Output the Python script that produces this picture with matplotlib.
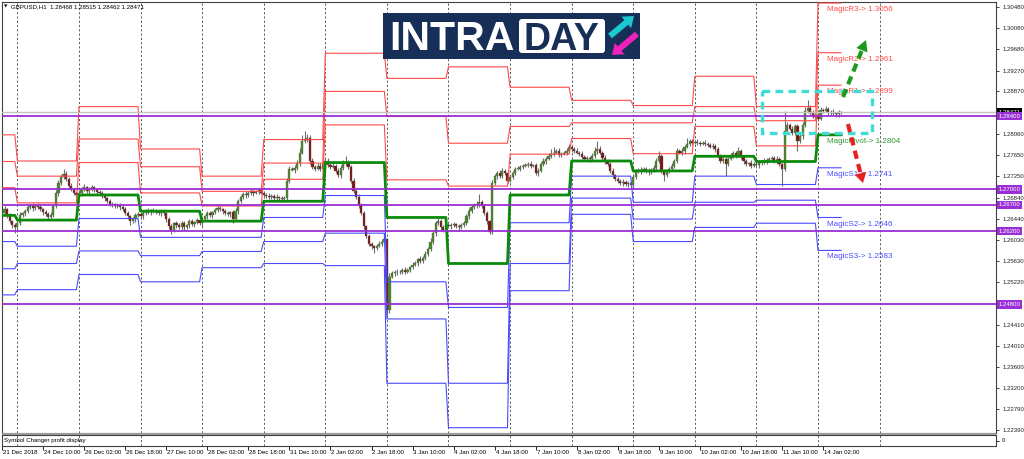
import numpy as np
import matplotlib
matplotlib.use("Agg")
import matplotlib.pyplot as plt
from matplotlib.patches import Rectangle, FancyBboxPatch, FancyArrow, Polygon
from matplotlib.transforms import blended_transform_factory

# ---------------- data ----------------
symbol_title = "GBPUSD,H1  1.28468 1.28515 1.28462 1.28471"
subwindow_title = "Symbol Changer profit display"
first_open = 1.2650
closes = [
    1.2654, 1.2662, 1.2650, 1.2639, 1.2631,
    1.2627, 1.2635, 1.2650, 1.2654, 1.2658,
    1.2666, 1.2668, 1.2664, 1.2669, 1.2666,
    1.2662, 1.2656, 1.2652, 1.2646, 1.2650,
    1.2668, 1.2693, 1.2712, 1.2723, 1.2729,
    1.2719, 1.2706, 1.2700, 1.2693, 1.2689,
    1.2693, 1.2700, 1.2704, 1.2696, 1.2700,
    1.2704, 1.2698, 1.2694, 1.2693, 1.2687,
    1.2683, 1.2677, 1.2671, 1.2671, 1.2668,
    1.2669, 1.2666, 1.2662, 1.2654, 1.2648,
    1.2639, 1.2643, 1.2650, 1.2652, 1.2648,
    1.2654, 1.2658, 1.2656, 1.2660, 1.2658,
    1.2656, 1.2654, 1.2658, 1.2654, 1.2643,
    1.2629, 1.2623, 1.2635, 1.2631, 1.2627,
    1.2635, 1.2627, 1.2631, 1.2639, 1.2633,
    1.2637, 1.2641, 1.2635, 1.2643, 1.2648,
    1.2654, 1.2650, 1.2656, 1.2660, 1.2664,
    1.2662, 1.2658, 1.2654, 1.2652, 1.2656,
    1.2643, 1.2658, 1.2677, 1.2685, 1.2691,
    1.2689, 1.2693, 1.2696, 1.2693, 1.2694,
    1.2698, 1.2693, 1.2689, 1.2687, 1.2685,
    1.2687, 1.2683, 1.2685, 1.2683, 1.2681,
    1.2683, 1.2716, 1.2739, 1.2737, 1.2741,
    1.2750, 1.2770, 1.2793, 1.2796, 1.2798,
    1.2754, 1.2743, 1.2739, 1.2745, 1.2739,
    1.2748, 1.2754, 1.2746, 1.2743, 1.2745,
    1.2735, 1.2727, 1.2741, 1.2748, 1.2750,
    1.2743, 1.2716, 1.2696, 1.2685, 1.2669,
    1.2654, 1.2629, 1.2610, 1.2596, 1.2591,
    1.2587, 1.2592, 1.2596, 1.2600, 1.2604,
    1.2469, 1.2533, 1.2539, 1.2542, 1.2541,
    1.2542, 1.2546, 1.2542, 1.2546, 1.2551,
    1.2556, 1.2558, 1.2566, 1.2562, 1.2569,
    1.2577, 1.2585, 1.2600, 1.2616, 1.2635,
    1.2639, 1.2627, 1.2623, 1.2631, 1.2629,
    1.2631, 1.2633, 1.2629, 1.2627, 1.2631,
    1.2635, 1.2648, 1.2658, 1.2666, 1.2669,
    1.2671, 1.2675, 1.2668, 1.2654, 1.2639,
    1.2619, 1.2712, 1.2725, 1.2731, 1.2725,
    1.2735, 1.2731, 1.2716, 1.2723, 1.2731,
    1.2739, 1.2739, 1.2743, 1.2745, 1.2746,
    1.2748, 1.2745, 1.2746, 1.2731, 1.2735,
    1.2748, 1.2754, 1.2758, 1.2764, 1.2768,
    1.2770, 1.2773, 1.2766, 1.2768, 1.2770,
    1.2773, 1.2781, 1.2777, 1.2773, 1.2770,
    1.2768, 1.2762, 1.2758, 1.2760, 1.2758,
    1.2764, 1.2773, 1.2777, 1.2770, 1.2760,
    1.2754, 1.2748, 1.2735, 1.2727, 1.2719,
    1.2716, 1.2712, 1.2714, 1.2710, 1.2712,
    1.2708, 1.2723, 1.2735, 1.2737, 1.2735,
    1.2739, 1.2735, 1.2733, 1.2737, 1.2741,
    1.2754, 1.2764, 1.2735, 1.2727, 1.2735,
    1.2739, 1.2745, 1.2754, 1.2773, 1.2770,
    1.2773, 1.2781, 1.2787, 1.2793, 1.2789,
    1.2791, 1.2789, 1.2787, 1.2789, 1.2787,
    1.2785, 1.2781, 1.2783, 1.2777, 1.2764,
    1.2754, 1.2758, 1.2748, 1.2758, 1.2764,
    1.2770, 1.2764, 1.2773, 1.2762, 1.2754,
    1.2748, 1.2750, 1.2745, 1.2748, 1.2746,
    1.2750, 1.2752, 1.2754, 1.2756, 1.2758,
    1.2760, 1.2754, 1.2758, 1.2748, 1.2739,
    1.2812, 1.2822, 1.2816, 1.2808, 1.2820,
    1.2793, 1.2802, 1.2822, 1.2850, 1.2856,
    1.2846, 1.2839, 1.2841, 1.2835, 1.2852,
    1.2850, 1.2854, 1.2846, 1.2848, 1.2845,
    1.2843, 1.2848, 1.2847,
]
wick_hi_pips = [
    4, 5, 3, 4, 3, 5, 4, 6, 3, 4,  5, 4, 6, 3, 4, 5, 3, 4, 5, 6,
    4, 5, 6, 4, 10, 5, 4, 6, 3, 4,  5, 4, 6, 3, 4, 5, 3, 4, 5, 4,
    4, 3, 5, 4, 3, 4, 5, 3, 4, 4,  3, 4, 5, 4, 3, 5, 4, 6, 3, 4,
    4, 3, 5, 4, 3, 4, 5, 3, 4, 5,  4, 5, 3, 4, 5, 3, 4, 6, 4, 3,
    4, 5, 3, 4, 6, 4, 3, 5, 4, 3,  4, 6, 5, 4, 3, 5, 4, 6, 3, 4,
    5, 4, 3, 4, 5, 3, 4, 5, 3, 4,  4, 5, 6, 4, 5, 6, 8, 10, 16, 8,
    6, 5, 4, 6, 5, 4, 6, 5, 4, 5,  4, 5, 6, 8, 14, 5, 4, 5, 4, 6,
    5, 4, 3, 5, 4, 3, 4, 5, 4, 6,  3, 6, 5, 4, 5, 4, 3, 5, 4, 3,
    4, 5, 3, 6, 4, 5, 4, 6, 5, 4,  6, 4, 5, 3, 4, 5, 4, 3, 5, 4,
    4, 5, 6, 4, 5, 6, 16, 4, 3, 4,  3, 6, 5, 4, 6, 5, 4, 5, 4, 3,
    4, 5, 3, 4, 5, 4, 6, 3, 4, 5,  4, 5, 4, 6, 8, 10, 4, 5, 3, 4,
    5, 6, 4, 3, 5, 4, 6, 4, 3, 4,  5, 8, 16, 6, 4, 5, 3, 4, 5, 3,
    4, 3, 5, 4, 3, 4, 5, 3, 4, 5,  4, 3, 5, 4, 6, 5, 9, 4, 3, 4,
    4, 5, 3, 6, 4, 5, 4, 11, 4, 3,  4, 5, 3, 4, 5, 3, 4, 5, 4, 3,
    4, 5, 3, 4, 5, 3, 4, 7, 4, 3,  4, 3, 5, 4, 3, 4, 3, 5, 4, 3,
    4, 3, 5, 4, 3, 38, 6, 5, 4, 5,  4, 5, 6, 8, 14, 5, 6, 4, 5, 6,
    4, 5, 3, 4, 5, 3, 4, 2,
]
wick_lo_pips = [
    4, 3, 5, 4, 6, 11, 4, 3, 4, 5,  3, 4, 5, 3, 4, 4, 5, 3, 4, 5,
    4, 3, 5, 4, 3, 4, 5, 3, 4, 5,  4, 5, 3, 4, 5, 3, 4, 5, 3, 4,
    5, 3, 4, 5, 3, 4, 5, 3, 4, 5,  8, 4, 5, 3, 4, 5, 3, 4, 5, 3,
    4, 3, 5, 4, 6, 5, 9, 4, 5, 3,  5, 4, 3, 5, 4, 6, 3, 4, 5, 3,
    4, 3, 5, 4, 3, 4, 5, 3, 4, 6,  8, 4, 5, 3, 4, 5, 3, 4, 5, 3,
    4, 3, 5, 4, 3, 4, 5, 3, 4, 5,  3, 4, 5, 3, 6, 4, 5, 3, 4, 5,
    6, 4, 5, 3, 4, 5, 3, 4, 5, 3,  4, 3, 5, 4, 3, 4, 5, 3, 4, 5,
    4, 5, 3, 4, 5, 8, 4, 3, 5, 4,  9, 5, 3, 4, 5, 3, 4, 5, 3, 4,
    4, 3, 5, 4, 3, 4, 5, 3, 4, 5,  3, 4, 5, 3, 4, 5, 3, 4, 5, 3,
    4, 3, 5, 4, 3, 4, 5, 3, 4, 5,  5, 4, 3, 5, 4, 3, 4, 5, 3, 4,
    4, 3, 5, 4, 3, 4, 5, 3, 4, 5,  3, 4, 5, 3, 4, 5, 3, 4, 5, 3,
    4, 3, 5, 4, 3, 4, 5, 3, 4, 5,  3, 4, 5, 3, 4, 5, 3, 4, 5, 3,
    4, 3, 5, 4, 6, 4, 5, 3, 4, 5,  3, 4, 5, 3, 4, 5, 3, 4, 11, 4,
    4, 3, 5, 4, 3, 4, 5, 3, 4, 5,  3, 4, 5, 3, 4, 5, 3, 4, 5, 3,
    4, 3, 23, 4, 3, 4, 5, 3, 4, 5,  3, 4, 5, 3, 4, 5, 3, 4, 5, 3,
    4, 3, 5, 4, 33, 4, 5, 3, 4, 5,  20, 4, 5, 3, 4, 5, 3, 4, 5, 3,
    4, 3, 5, 4, 3, 4, 5, 3,
]
# first bar of each trading day (pivot levels change there)
day_start_bars = [0, 6, 30, 54, 78, 102, 126, 150, 174, 198, 222, 246, 270, 294, 318]
r3 = [1.2804, 1.2754, 1.2858, 1.2777, 1.2725, 1.2795, 1.2960, 1.2912, 1.2934, 1.2895, 1.2870, 1.2860, 1.2916, 1.2858, 1.3056]
r2 = [1.2753, 1.2725, 1.2796, 1.2743, 1.2696, 1.2750, 1.2887, 1.2839, 1.2788, 1.2820, 1.2827, 1.2827, 1.2858, 1.2831, 1.2961]
r1 = [1.2703, 1.2674, 1.2751, 1.2693, 1.2668, 1.2719, 1.2823, 1.2718, 1.2706, 1.2767, 1.2797, 1.2768, 1.2820, 1.2783, 1.2899]
pv = [1.2650, 1.2641, 1.2689, 1.2658, 1.2639, 1.2677, 1.2751, 1.2646, 1.2558, 1.2689, 1.2754, 1.2735, 1.2763, 1.2753, 1.2804]
s1 = [1.2600, 1.2591, 1.2644, 1.2608, 1.2608, 1.2646, 1.2688, 1.2523, 1.2474, 1.2636, 1.2725, 1.2675, 1.2725, 1.2709, 1.2741]
s2 = [1.2548, 1.2558, 1.2582, 1.2573, 1.2581, 1.2600, 1.2616, 1.2452, 1.2329, 1.2558, 1.2683, 1.2643, 1.2675, 1.2679, 1.2646]
s3 = [1.2498, 1.2508, 1.2537, 1.2523, 1.2550, 1.2558, 1.2554, 1.2329, 1.2244, 1.2506, 1.2652, 1.2600, 1.2627, 1.2635, 1.2583]
time_labels = ["21 Dec 2018", "24 Dec 10:00", "26 Dec 02:00", "26 Dec 18:00", "27 Dec 10:00",
               "28 Dec 02:00", "28 Dec 18:00", "31 Dec 10:00", "2 Jan 02:00", "2 Jan 18:00",
               "3 Jan 10:00", "4 Jan 02:00", "4 Jan 18:00", "7 Jan 10:00", "8 Jan 02:00",
               "8 Jan 18:00", "9 Jan 10:00", "10 Jan 02:00", "10 Jan 18:00", "11 Jan 10:00",
               "14 Jan 02:00"]
bars_per_time_label = 16
price_ticks = [1.30480, 1.30080, 1.29680, 1.29270, 1.28870, 1.28060, 1.27650, 1.27250,
               1.26840, 1.26440, 1.26030, 1.25630, 1.25220, 1.24410, 1.24010, 1.23600,
               1.23200, 1.22790, 1.22390]
key_levels = [1.2840, 1.2700, 1.2670, 1.2620, 1.2480]
bid_price = 1.28471

# ---------------- style / layout ----------------
W, H = 1024, 459
SMALL = ["Liberation Sans", "DejaVu Sans"]
plt.rcParams["font.family"] = SMALL
RED, BLUE, GREEN = "#ff4a4a", "#4a4aff", "#0b8a0b"
PURPLE = "#9a2fd6"
BULL, BEAR, WICK = "#478a22", "#801212", "#6e6e6e"
GRIDC = "#5a5a5a"
BAR_PX = 2.566

fig = plt.figure(figsize=(W / 100, H / 100), dpi=100)
fig.patch.set_facecolor("white")


def frac(x0, y0, x1, y1):
    return [x0 / W, 1 - y1 / H, (x1 - x0) / W, (y1 - y0) / H]


ax = fig.add_axes(frac(2, 2, 996, 433))
axs = fig.add_axes(frac(2, 435, 996, 446))
xmax = 994 / BAR_PX
for a in (ax, axs):
    a.set_xlim(0, xmax)
    for sp in a.spines.values():
        sp.set_color("#404040")
        sp.set_linewidth(0.8)
ax.set_ylim(1.22339, 1.30580)
axs.set_ylim(-1, 1)

# vertical grid
grid_bars = np.arange(day_start_bars[1], 343, 24)
for a in (ax, axs):
    for g in grid_bars:
        a.axvline(g, color=GRIDC, lw=0.7, ls=(0, (2.2, 2.2)), zorder=1)

# candles
n = min(len(closes), len(wick_hi_pips), len(wick_lo_pips))
c = np.array(closes[:n])
o = np.concatenate([[first_open], c[:-1]])
hi = np.maximum(o, c) + np.array(wick_hi_pips[:n]) * 1e-4
lo = np.minimum(o, c) - np.array(wick_lo_pips[:n]) * 1e-4
idx = np.arange(n)
up = c >= o
ax.vlines(idx, lo, hi, color=WICK, lw=0.8, zorder=2)
body = np.maximum(np.abs(c - o), 0.0001)
bottom = np.minimum(o, c)
ax.bar(idx[up], body[up], bottom=bottom[up], width=0.85, color=BULL, ec="#5f5f5f", lw=0.25, zorder=3)
ax.bar(idx[~up], body[~up], bottom=bottom[~up], width=0.85, color=BEAR, ec="#5f5f5f", lw=0.25, zorder=3)

# pivot levels (stepped per day)
seg_len = np.diff(day_start_bars + [n])
for lev, col, lw in [(r3, RED, 0.8), (r2, RED, 0.8), (r1, RED, 0.8),
                     (s1, BLUE, 0.8), (s2, BLUE, 0.8), (s3, BLUE, 0.8), (pv, GREEN, 2.0)]:
    ax.plot(idx, np.repeat(lev, seg_len), color=col, lw=lw, zorder=4)

# bid line and key levels
ax.axhline(bid_price, color="#c4c4c4", lw=1.0, zorder=4)
for lv in key_levels:
    ax.axhline(lv, color=PURPLE, lw=1.3, zorder=5)

# magic labels
label_info = [("MagicR3", r3, RED), ("MagicR2", r2, RED), ("MagicR1", r1, RED),
              ("MagicPivot", pv, "#2e9a2e"), ("MagicS1", s1, "#4b4bff"),
              ("MagicS2", s2, "#4b4bff"), ("MagicS3", s3, "#4b4bff")]
for name, lev, col in label_info:
    ax.annotate(f"{name}-> {lev[-1]:.4f}", xy=(0.830, lev[-1]), xycoords=("axes fraction", "data"),
                xytext=(0, -4.7), textcoords="offset points", fontsize=5.8, color=col,
                va="center", ha="left", zorder=7)

# right price axis
ax.yaxis.tick_right()
ax.set_yticks(price_ticks)
ax.set_yticklabels([f"{p:.5f}" for p in price_ticks])
ax.tick_params(axis="y", direction="out", length=2, width=0.6, pad=2.5, labelsize=4.3, colors="#202020")
ax.set_xticks([])
trans = blended_transform_factory(ax.transAxes, ax.transData)
ax.text(1.0025, bid_price, f"{bid_price:.5f}", transform=trans, fontsize=4.3, color="white",
        va="center", ha="left", clip_on=False, zorder=6,
        bbox=dict(boxstyle="square,pad=0.3", fc="black", ec="none"))
for lv in key_levels:
    ax.text(1.0025, lv, f"{lv:.5f}", transform=trans, fontsize=4.3, color="white",
            va="center", ha="left", clip_on=False, zorder=7,
            bbox=dict(boxstyle="square,pad=0.3", fc=PURPLE, ec="none"))

# subwindow
axs.yaxis.tick_right()
axs.set_yticks([0])
axs.set_yticklabels(["0"])
axs.tick_params(axis="y", direction="out", length=2, width=0.6, pad=2.5, labelsize=4.3)
tick_pos = np.arange(len(time_labels)) * bars_per_time_label
axs.set_xticks(tick_pos)
axs.set_xticklabels([])
axs.tick_params(axis="x", direction="out", length=3, width=0.6)
for p, lab in zip(tick_pos, time_labels):
    axs.annotate(lab, xy=(p, 0), xycoords=("data", "axes fraction"), xytext=(0.6, -4.4),
                 textcoords="offset points", fontsize=4.4, ha="left", va="center",
                 annotation_clip=False)
axs.text(0.002, 0.5, subwindow_title, transform=axs.transAxes, fontsize=4.4, va="center", ha="left")

# ---------------- overlay (pixel coordinates) ----------------
ov = fig.add_axes([0, 0, 1, 1], zorder=10)
ov.set_xlim(0, W)
ov.set_ylim(H, 0)
ov.axis("off")
ov.patch.set_alpha(0)

ov.add_patch(Rectangle((2, 432.6), 994, 2.4, color="#9a9a9a", lw=0))
ov.text(3.5, 6.5, "\u25BC", fontsize=3.2, va="center", ha="left", family=["DejaVu Sans"])
ov.text(11, 6.5, symbol_title, fontsize=4.4, va="center", ha="left")

# logo
NAVY = "#172f57"
ov.add_patch(Rectangle((383, 13), 257, 46, color=NAVY, lw=0))
ov.add_patch(FancyBboxPatch((519, 19), 86, 34, boxstyle="round,pad=0,rounding_size=3",
                            fc="white", ec="none"))
ov.text(389, 49.5, "INTRA", color="white", fontsize=29.5, fontweight="bold", va="baseline", ha="left",
        family=["Liberation Sans"])
ov.text(523, 49.5, "DAY", color=NAVY, fontsize=27, fontweight="bold", va="baseline", ha="left",
        family=["Liberation Sans"])
ov.add_patch(FancyArrow(610, 36, 24, -20, width=6, head_width=15, head_length=10,
                        length_includes_head=True, color="#1cc8cf", lw=0))
ov.add_patch(FancyArrow(637, 34, -25, 21, width=6, head_width=15, head_length=10,
                        length_includes_head=True, color="#ec22bb", lw=0))

# cyan dashed box
ov.add_patch(Rectangle((762, 91), 110, 42, fill=False, ec="#3fdcd4", lw=2.4, ls=(0, (2.3, 1.6))))
# green dashed arrow
ov.plot([843, 861.9], [97, 50.2], color="#1c9a1c", lw=3, ls=(0, (2, 1.3)), solid_capstyle="butt")
ov.add_patch(Polygon([(866, 40), (867.5, 52.4), (856.3, 48.0)], closed=True, color="#1c9a1c", lw=0))
# red dashed arrow
ov.plot([848, 860.5], [124, 173.3], color="#e82020", lw=3, ls=(0, (2, 1.3)), solid_capstyle="butt")
ov.add_patch(Polygon([(863, 183), (866.3, 171.8), (854.7, 174.8)], closed=True, color="#e82020", lw=0))

fig.savefig("out.png", dpi=100)
